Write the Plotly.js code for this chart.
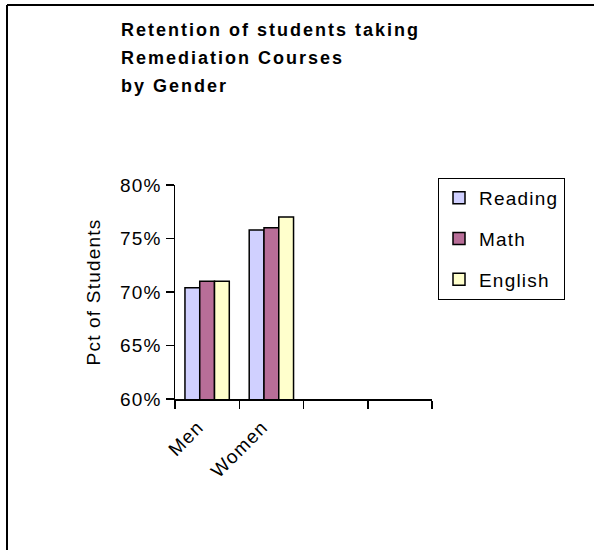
<!DOCTYPE html>
<html>
<head>
<meta charset="utf-8">
<script src="https://cdn.plot.ly/plotly-3.0.1.min.js"></script>
<style>
  html, body { margin: 0; padding: 0; background: #ffffff; }
  #chart { width: 594px; height: 550px; }
  /* wide, spaced lettering of the heading and labels */
  .annotation-text { letter-spacing: 2px; }
  .legendtext, .ytick text, .xtick text, .ytitle { letter-spacing: 1.2px; }
</style>
</head>
<body>
<div id="chart"></div>
<script>
// Retention rates by gender for each remediation subject
const categories = ['Men', 'Women'];
const seriesNames = ['Reading', 'Math', 'English'];
const reading = [0.704, 0.758];
const math = [0.710, 0.760];
const english = [0.710, 0.770];
const yTickVals = [0.60, 0.65, 0.70, 0.75, 0.80];
const titleLines = ['Retention of students taking', 'Remediation Courses', 'by Gender'];

const seriesValues = [reading, math, english];
const seriesColors = ['#D0D0FF', '#B86E98', '#FFFFCC'];

// plot frame in pixels
const W = 594, H = 550;
const M = { l: 175, r: 162, t: 185, b: 151 };
const plotW = W - M.l - M.r;
const plotH = H - M.t - M.b;
const px = x => (x - M.l) / plotW;
const py = y => (H - M.b - y) / plotH;

// four category slots on the axis; only the first two carry data
const slots = 4;
const xPos = categories.map((_, i) => i);
const boundaries = Array.from({ length: slots + 1 }, (_, i) => i - 0.5);

const FONT = 'Liberation Sans, Arial, sans-serif';

const traces = seriesNames.map((name, k) => ({
  type: 'bar',
  name: name,
  x: xPos,
  y: seriesValues[k],
  legendgroup: name,
  marker: { color: seriesColors[k], line: { color: '#000000', width: 1.5 } },
  hoverinfo: 'skip'
}));

const annotations = titleLines.map((t, i) => ({
  text: '<b>' + t + '</b>',
  xref: 'paper', yref: 'paper',
  x: px(119), y: py(30.5 + i * 27.5),
  xanchor: 'left', yanchor: 'middle',
  showarrow: false,
  font: { family: FONT, size: 18, color: '#000000' }
}));

const shapes = [
  { type: 'line', xref: 'paper', yref: 'paper', x0: px(7), x1: px(600), y0: py(5), y1: py(5),
    line: { color: '#000000', width: 2 } },
  { type: 'line', xref: 'paper', yref: 'paper', x0: px(7), x1: px(7), y0: py(5), y1: py(560),
    line: { color: '#000000', width: 2 } }
];

const layout = {
  width: W, height: H,
  margin: M,
  paper_bgcolor: '#ffffff',
  plot_bgcolor: '#ffffff',
  font: { family: FONT, size: 19, color: '#000000' },
  barmode: 'group',
  bargap: 0.31,
  bargroupgap: 0,
  showlegend: true,
  legend: {
    x: px(438), y: py(178), xanchor: 'left', yanchor: 'top',
    bordercolor: '#000000', borderwidth: 1, bgcolor: '#ffffff',
    font: { family: FONT, size: 19, color: '#000000' },
    tracegroupgap: 13, traceorder: 'grouped'
  },
  xaxis: {
    range: [-0.5, slots - 0.5],
    tickmode: 'array', tickvals: xPos, ticktext: categories,
    ticks: '', tickangle: -45, ticklabelstandoff: 8, ticklabelshift: -9,
    showline: true, linecolor: '#000000', linewidth: 1.5,
    showgrid: false, zeroline: false, fixedrange: true,
    minor: { tickmode: 'array', tickvals: boundaries, ticks: 'outside', ticklen: 8,
             tickwidth: 1.5, tickcolor: '#000000', showgrid: false }
  },
  yaxis: {
    range: [0.6, 0.8],
    tickmode: 'array', tickvals: yTickVals, tickformat: '.0%',
    ticks: 'outside', ticklen: 8, tickwidth: 1.5, tickcolor: '#000000',
    showline: true, linecolor: '#000000', linewidth: 1.5,
    showgrid: false, zeroline: false, fixedrange: true,
    title: { text: 'Pct of Students', font: { family: FONT, size: 19 }, standoff: 14 }
  },
  annotations: annotations,
  shapes: shapes
};

Plotly.newPlot('chart', traces, layout, { displayModeBar: false, staticPlot: true });
</script>
</body>
</html>
